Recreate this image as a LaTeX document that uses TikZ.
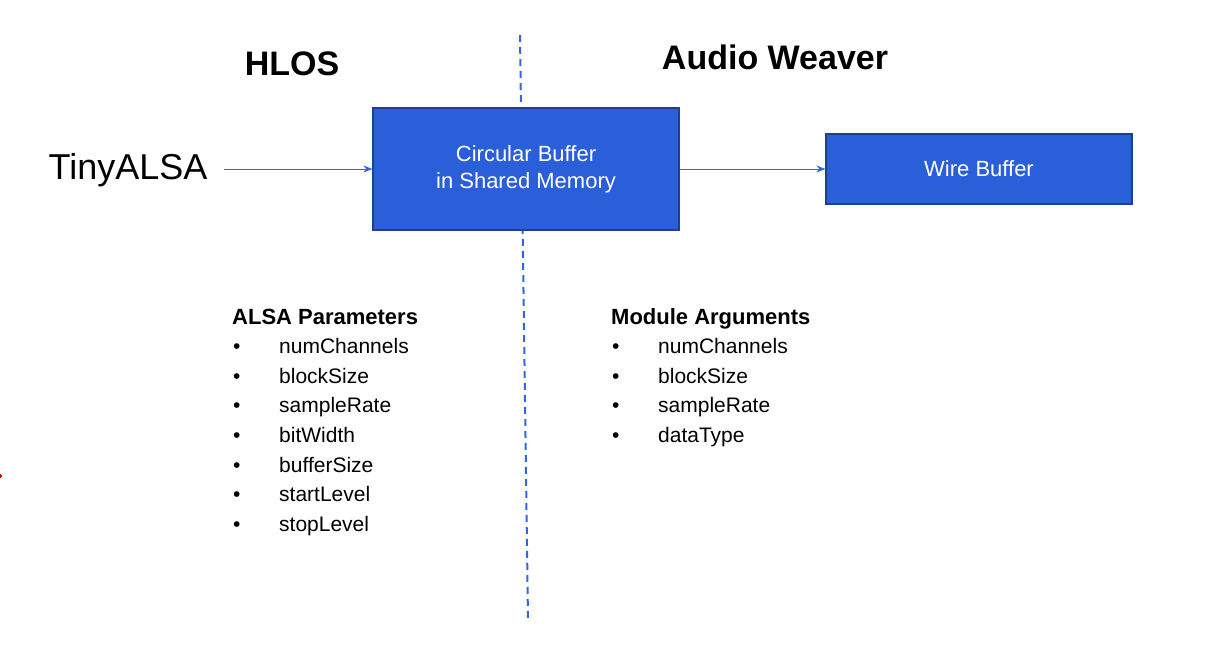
\documentclass[tikz,border=0pt]{standalone}
\usepackage{fontspec}
\setmainfont{Liberation Sans}
\usetikzlibrary{arrows.meta}
\definecolor{boxblue}{HTML}{2B5FD9}
\definecolor{boxedge}{HTML}{1F3F8F}
\definecolor{lineblue}{HTML}{3366DD}
\begin{document}
\begin{tikzpicture}[x=1pt,y=-1pt,
  box/.style={draw=boxedge,line width=1.2pt,fill=boxblue,text=white,font=\fontsize{22}{27}\selectfont,align=center,inner sep=0pt},
  title/.style={font=\fontsize{34}{40}\selectfont\bfseries,anchor=center},
  conn/.style={draw=lineblue,line width=0.8pt,-{Stealth[length=9pt,width=7pt]}},
  item/.style={font=\fontsize{21}{25}\selectfont,anchor=base west,inner sep=0pt},
  head/.style={font=\fontsize{22}{26}\selectfont\bfseries,anchor=base west,inner sep=0pt}]
\useasboundingbox (0,0) rectangle (1226,665);
\coordinate (dtop) at (520,35);
\coordinate (dbot) at (528,620);
\draw[lineblue,line width=2pt,dash pattern=on 7pt off 5pt] (dtop) -- (dbot);
\node[title] (hlos) at (292,64) {HLOS};
\node[title] (aw) at (775,57) {Audio Weaver};
\node[font=\fontsize{36}{40}\selectfont,anchor=center,inner sep=0pt] (tiny) at (128,170) {TinyALSA};
\node[box,minimum width=306pt,minimum height=122pt] (cb) at (526,169) {Circular Buffer\\in Shared Memory};
\node[box,minimum width=306pt,minimum height=70pt] (wb) at (979,169) {Wire Buffer};
\coordinate (a0) at (224,169);
\draw[conn] (a0) -- (cb.west);
\draw[conn] (cb.east) -- (wb.west);
\node[head] (ap) at (232,324) {ALSA Parameters};
\foreach \t [count=\i] in {numChannels,blockSize,sampleRate,bitWidth,bufferSize,startLevel,stopLevel}{
  \node[item] (al\i) at (279,{324+29.6*\i}) {\t};
  \node[item] (alb\i) at (233,{324+29.6*\i}) {•};
}
\node[head] (ma) at (611,324) {Module Arguments};
\foreach \t [count=\i] in {numChannels,blockSize,sampleRate,dataType}{
  \node[item] (ml\i) at (658,{324+29.6*\i}) {\t};
  \node[item] (mlb\i) at (612,{324+29.6*\i}) {•};
}
\fill[red!80!black] (0,476) circle (2pt);
\end{tikzpicture}
\end{document}
